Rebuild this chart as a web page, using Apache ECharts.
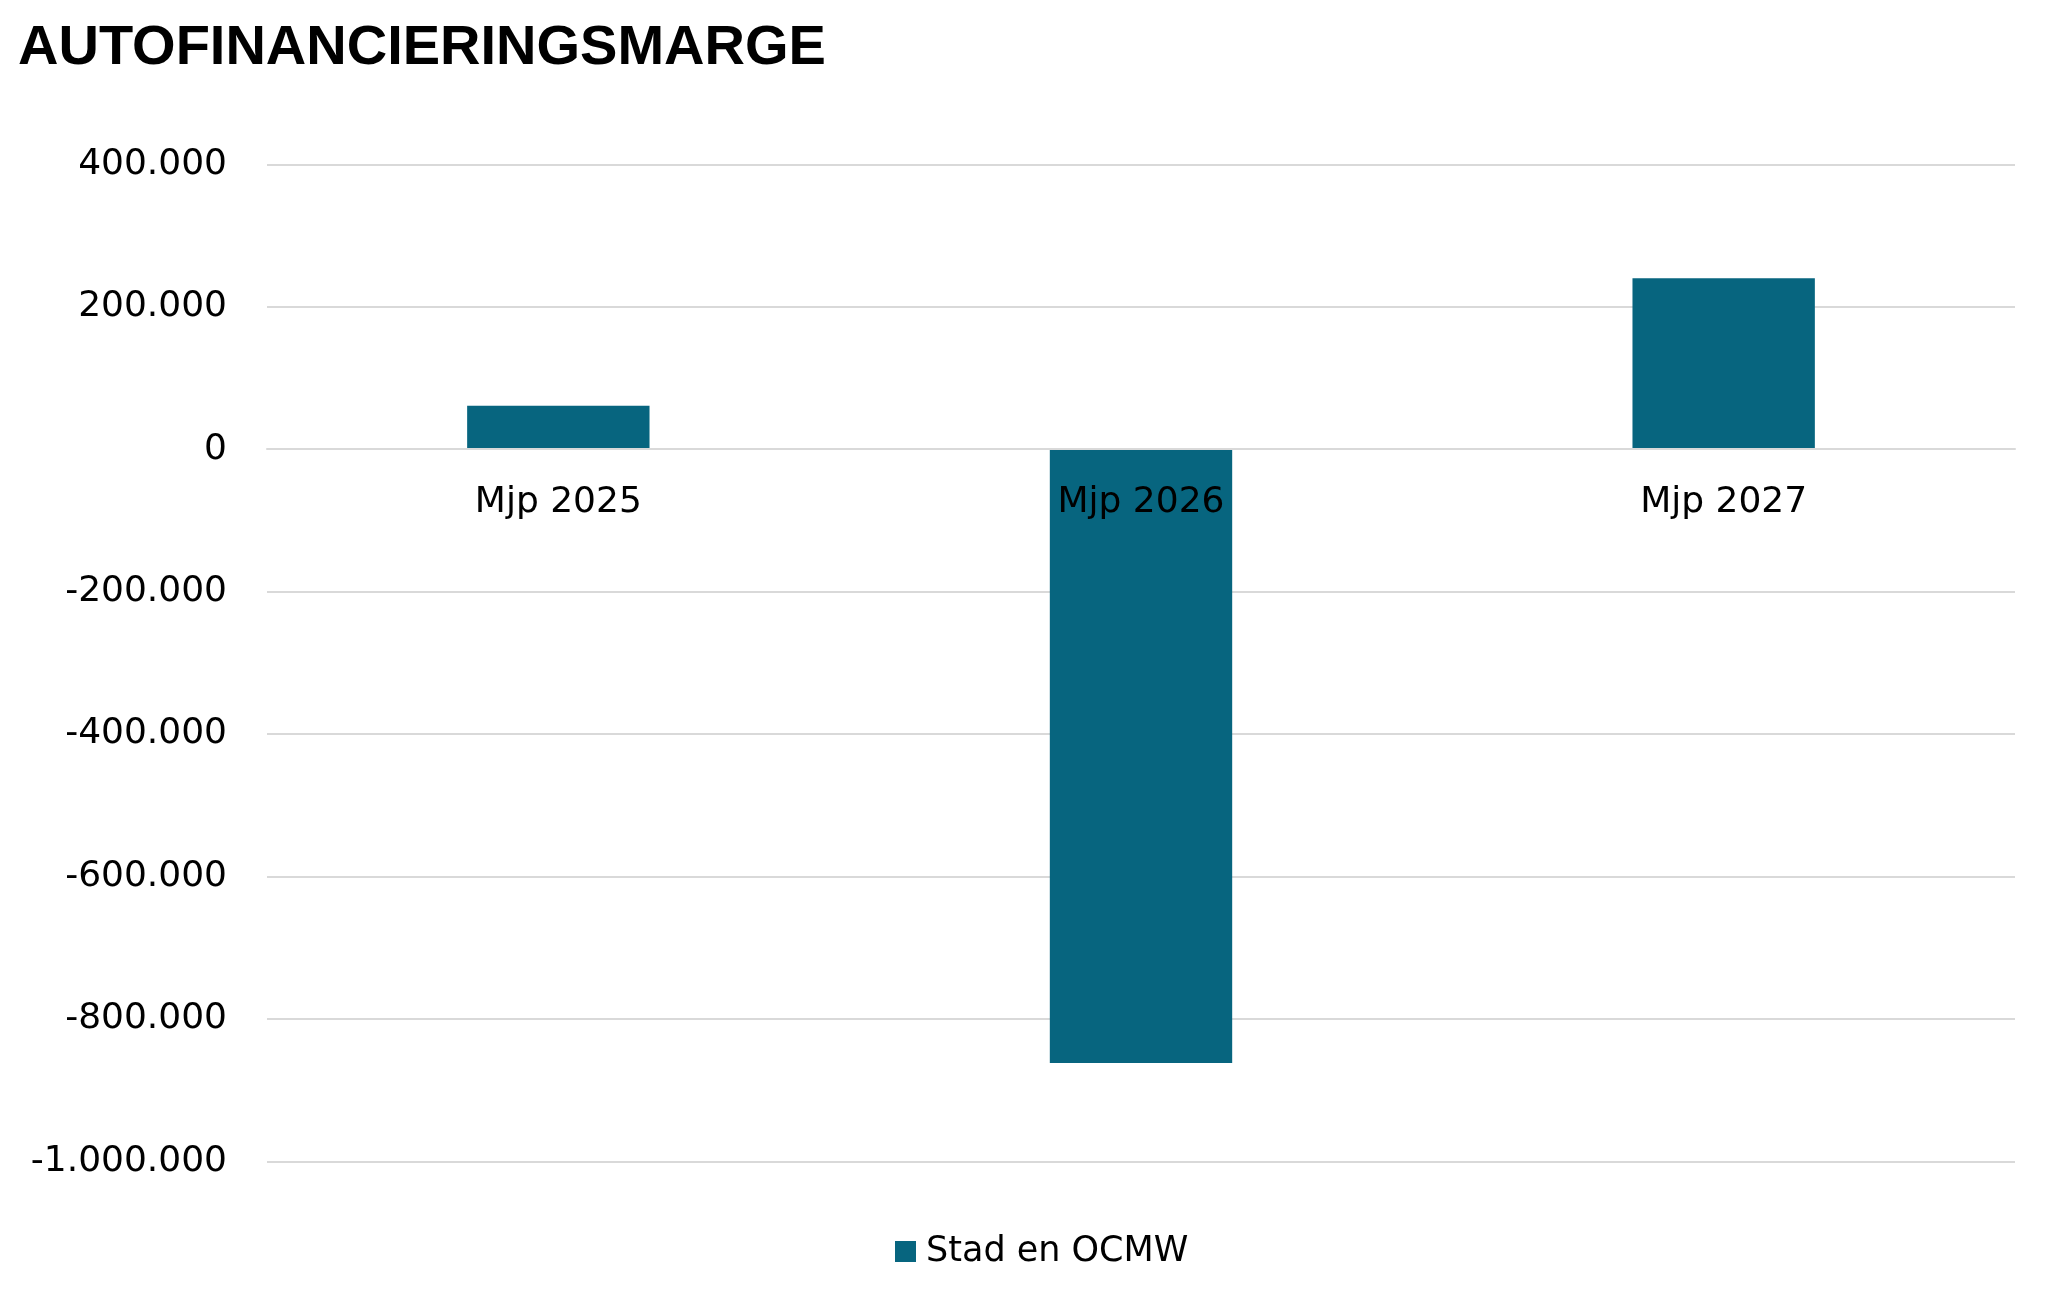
<!DOCTYPE html>
<html>
<head>
<meta charset="utf-8">
<script src="https://cdn.jsdelivr.net/npm/echarts@6/dist/echarts.min.js"></script>
<style>html,body{margin:0;padding:0;background:#fff}#c{width:2066px;height:1313px}</style>
</head>
<body>
<div id="c"></div>
<script>
const categories = ['Mjp 2025', 'Mjp 2026', 'Mjp 2027'];
const seriesName = 'Stad en OCMW';
const values = [61000, -862000, 240000];
const yMin = -1000000, yMax = 400000, yStep = 200000;

function fmt(v) {
  const neg = v < 0;
  const s = String(Math.abs(v)).replace(/\B(?=(\d{3})+(?!\d))/g, '.');
  return (neg ? '-' : '') + s;
}

const gridTop = 164.3, gridBottom = 151.7, H = 1313;
const plotH = H - gridTop - gridBottom;
const zeroOffset = -plotH * (0 - yMin) / (yMax - yMin);

const chart = echarts.init(document.getElementById('c'), null, {renderer: 'canvas'});
chart.setOption({
  backgroundColor: '#ffffff',
  animation: false,
  title: {
    text: 'AUTOFINANCIERINGSMARGE',
    left: 13, top: 16,
    textStyle: {fontFamily: 'Liberation Sans', fontWeight: 'bold', fontSize: 56, color: '#000'}
  },
  grid: {left: 267, right: 51, top: gridTop, bottom: gridBottom, containLabel: false},
  legend: {
    data: [seriesName],
    left: 890, top: 1229,
    icon: 'rect', itemWidth: 21, itemHeight: 21, itemGap: 20,
    textStyle: {fontFamily: 'DejaVu Sans', fontSize: 35, color: '#000', padding: [0, 0, 0, 5]}
  },
  xAxis: {
    type: 'category',
    data: categories,
    z: 5,
    offset: zeroOffset,
    axisLine: {show: true, onZero: false, lineStyle: {color: '#d9d9d9', width: 2}},
    axisTick: {show: false},
    axisLabel: {fontFamily: 'DejaVu Sans', fontSize: 36, color: '#000', margin: 35}
  },
  yAxis: {
    type: 'value',
    min: yMin, max: yMax, interval: yStep,
    axisLine: {show: false},
    axisTick: {show: false},
    splitLine: {lineStyle: {color: '#d9d9d9', width: 2}},
    axisLabel: {fontFamily: 'DejaVu Sans', fontSize: 36, color: '#000', margin: 40, padding: [8, 0, 0, 0], formatter: fmt}
  },
  series: [{
    name: seriesName,
    type: 'bar',
    data: values,
    barWidth: '31.3%',
    itemStyle: {color: '#07657f'}
  }]
});
</script>
</body>
</html>
